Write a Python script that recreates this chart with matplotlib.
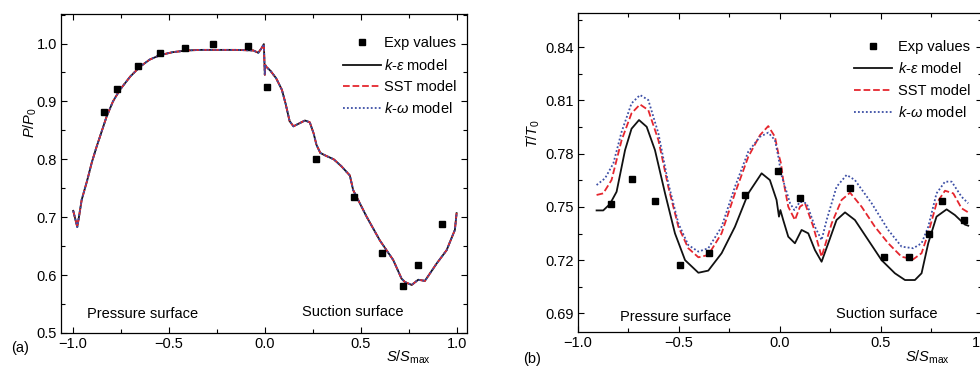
import matplotlib
matplotlib.use("Agg")
import matplotlib.pyplot as plt
from matplotlib.ticker import MultipleLocator

plt.rcParams['font.family'] = ['Liberation Sans', 'DejaVu Sans']
plt.rcParams['mathtext.fontset'] = 'custom'
plt.rcParams['mathtext.rm'] = 'Liberation Sans'
plt.rcParams['mathtext.it'] = 'Liberation Sans:italic'
plt.rcParams['mathtext.sf'] = 'Liberation Sans'
plt.rcParams['font.size'] = 10.5

# ---------------- Panel (a): pressure ratio ----------------
p_exp_x = [-0.837, -0.768, -0.658, -0.545, -0.415, -0.268, -0.085, 0.010,
           0.267, 0.467, 0.613, 0.719, 0.800, 0.922]
p_exp_y = [0.881, 0.921, 0.961, 0.983, 0.992, 0.999, 0.996, 0.925,
           0.800, 0.735, 0.638, 0.581, 0.617, 0.689]

p_x = [-0.997, -0.976, -0.965, -0.953, -0.924, -0.900, -0.875, -0.823, -0.790,
       -0.754, -0.700, -0.649, -0.600, -0.545, -0.480, -0.406, -0.33, -0.25,
       -0.15, -0.059, -0.033, -0.016, -0.004, 0.001, 0.003, 0.008, 0.03, 0.06,
       0.09, 0.11, 0.13, 0.15, 0.18, 0.21, 0.235, 0.255, 0.27, 0.29, 0.32, 0.36,
       0.40, 0.444, 0.461, 0.531, 0.600, 0.670, 0.713, 0.731, 0.766, 0.800,
       0.835, 0.896, 0.948, 0.991, 1.0]
p_ke = [0.711, 0.683, 0.705, 0.730, 0.764, 0.795, 0.822, 0.874, 0.900,
        0.920, 0.943, 0.960, 0.972, 0.980, 0.985, 0.988, 0.989, 0.989,
        0.989, 0.988, 0.984, 0.992, 0.999, 0.946, 0.963, 0.960, 0.953, 0.940,
        0.920, 0.895, 0.866, 0.857, 0.862, 0.867, 0.864, 0.845, 0.825, 0.811, 0.806,
        0.800, 0.788, 0.772, 0.747, 0.701, 0.660, 0.626, 0.594, 0.588, 0.583, 0.592,
        0.590, 0.620, 0.643, 0.678, 0.707]
p_sst = list(p_ke)
p_kw = list(p_ke)

# ---------------- Panel (b): temperature ratio ----------------
t_exp_x = [-0.837, -0.731, -0.621, -0.495, -0.351, -0.175, -0.010, 0.097,
           0.347, 0.515, 0.639, 0.738, 0.803, 0.911]
t_exp_y = [0.7514, 0.7655, 0.7533, 0.7171, 0.7242, 0.7567, 0.7704, 0.7550,
           0.7604, 0.7219, 0.7216, 0.7347, 0.7533, 0.7426]

t_ke_x = [-0.908, -0.875, -0.842, -0.809, -0.767, -0.735, -0.698, -0.660, -0.619,
          -0.569, -0.520, -0.470, -0.404, -0.355, -0.289, -0.223, -0.157, -0.091,
          -0.050, -0.017, -0.005, 0.002, 0.016, 0.041, 0.074, 0.107, 0.140, 0.173,
          0.206, 0.239, 0.280, 0.322, 0.371, 0.437, 0.503, 0.569, 0.619, 0.668,
          0.701, 0.734, 0.775, 0.825, 0.866, 0.916, 0.932]
t_ke = [0.748, 0.748, 0.7516, 0.7585, 0.782, 0.794, 0.7989, 0.7951, 0.782,
        0.7576, 0.7351, 0.720, 0.7129, 0.7141, 0.7239, 0.7388, 0.7576, 0.7689,
        0.7651, 0.7539, 0.7445, 0.7482, 0.7426, 0.7332, 0.7295, 0.737, 0.7351, 0.7257,
        0.7191, 0.7295, 0.7426, 0.7469, 0.7426, 0.7313, 0.720, 0.7126, 0.7088, 0.7088,
        0.7126, 0.7295, 0.7445, 0.7486, 0.7454, 0.740, 0.7394]

t_sst_x = [-0.908, -0.875, -0.834, -0.784, -0.735, -0.693, -0.652, -0.602, -0.553,
           -0.503, -0.454, -0.404, -0.355, -0.289, -0.223, -0.157, -0.099, -0.058,
           -0.025, -0.008, 0.005, 0.016, 0.041, 0.074, 0.099, 0.124, 0.165, 0.206,
           0.256, 0.305, 0.347, 0.404, 0.470, 0.536, 0.602, 0.660, 0.701, 0.734,
           0.775, 0.817, 0.858, 0.899, 0.932]
t_sst = [0.7567, 0.7576, 0.7651, 0.7876, 0.8027, 0.8077, 0.8045, 0.7876, 0.7613,
         0.7388, 0.7267, 0.7216, 0.7229, 0.7351, 0.7576, 0.7782, 0.7904, 0.7955,
         0.7895, 0.780, 0.7745, 0.7651, 0.7501, 0.7426, 0.7501, 0.752, 0.7388, 0.7219,
         0.7407, 0.7539, 0.758, 0.7501, 0.7388, 0.7295, 0.7219, 0.7205, 0.7239, 0.7351,
         0.752, 0.7591, 0.7576, 0.7492, 0.7469]

t_kw_x = [-0.908, -0.866, -0.825, -0.784, -0.735, -0.693, -0.652, -0.602, -0.553,
          -0.503, -0.454, -0.404, -0.355, -0.289, -0.223, -0.157, -0.099, -0.058,
          -0.025, -0.008, 0.005, 0.025, 0.050, 0.071, 0.099, 0.132, 0.173, 0.206,
          0.231, 0.280, 0.330, 0.371, 0.454, 0.536, 0.602, 0.660, 0.701, 0.734,
          0.775, 0.817, 0.850, 0.899, 0.932]
t_kw = [0.7623, 0.7661, 0.7745, 0.7923, 0.8083, 0.813, 0.8102, 0.7914, 0.7633,
        0.7407, 0.7285, 0.7248, 0.7267, 0.7388, 0.7613, 0.7811, 0.7895, 0.7918,
        0.7876, 0.7782, 0.7689, 0.7613, 0.752, 0.7482, 0.7529, 0.752, 0.7388, 0.7313,
        0.7426, 0.7613, 0.768, 0.7651, 0.752, 0.737, 0.7276, 0.7267, 0.7295, 0.7388,
        0.7576, 0.7642, 0.7642, 0.7557, 0.752]

labels = ['Exp values', r'$k$-$\varepsilon$ model', 'SST model', r'$k$-$\omega$ model']
C_BLACK = '#111111'
C_RED = '#e5262e'
C_BLUE = '#3d4fa6'
LW = 1.3

fig = plt.figure(figsize=(9.8, 3.7), dpi=100)
ax1 = fig.add_axes([0.0622, 0.100, 0.4143, 0.8622])
ax2 = fig.add_axes([0.5898, 0.1035, 0.4122, 0.8605])


def style(ax):
    ax.tick_params(which='both', direction='in', top=True, right=True,
                   labelsize=10.5, width=0.8, pad=3)
    ax.tick_params(which='major', length=4)
    ax.tick_params(which='minor', length=3)
    for s in ax.spines.values():
        s.set_linewidth(0.9)


# Panel a
ax1.plot(p_exp_x, p_exp_y, 's', color='black', ms=5, label=labels[0], zorder=5)
ax1.plot(p_x, p_ke, '-', color=C_BLACK, lw=LW, label=labels[1])
ax1.plot(p_x, p_sst, '--', color=C_RED, lw=LW, label=labels[2])
ax1.plot(p_x, p_kw, color=C_BLUE, lw=LW, ls=(0, (1, 1.2)), label=labels[3])
ax1.set_xlim(-1.061, 1.054)
ax1.set_ylim(0.5, 1.051)
ax1.xaxis.set_minor_locator(MultipleLocator(0.25))
ax1.yaxis.set_major_locator(MultipleLocator(0.1))
ax1.yaxis.set_minor_locator(MultipleLocator(0.05))
ax1.set_xticks([-1.0, -0.5, 0.0, 0.5, 1.0])
ax1.set_xticklabels(['\u22121.0', '\u22120.5', '0.0', '0.5', '1.0'])
style(ax1)
ax1.text(-0.925, 0.532, 'Pressure surface', fontsize=10.5, va='center', ha='left')
ax1.text(0.194, 0.536, 'Suction surface', fontsize=10.5, va='center', ha='left')
ax1.legend(loc='upper right', bbox_to_anchor=(0.975, 0.93), frameon=False,
           fontsize=10.5, handlelength=2.6, handletextpad=0.25, labelspacing=0.5,
           borderpad=0, borderaxespad=0)

# Panel b
ax2.plot(t_exp_x, t_exp_y, 's', color='black', ms=5, label=labels[0], zorder=5)
ax2.plot(t_ke_x, t_ke, '-', color=C_BLACK, lw=LW, label=labels[1])
ax2.plot(t_sst_x, t_sst, '--', color=C_RED, lw=LW, label=labels[2])
ax2.plot(t_kw_x, t_kw, color=C_BLUE, lw=LW, ls=(0, (1, 1.2)), label=labels[3])
ax2.set_xlim(-1.0, 1.0)
ax2.set_ylim(0.6797, 0.859)
ax2.set_xticks([-1.0, -0.5, 0.0, 0.5, 1.0])
ax2.set_xticklabels(['\u22121.0', '\u22120.5', '0.0', '0.5', '1.0'])
ax2.xaxis.set_minor_locator(MultipleLocator(0.25))
ax2.set_yticks([0.69, 0.72, 0.75, 0.78, 0.81, 0.84])
ax2.set_yticklabels(['0.69', '0.72', '0.75', '0.78', '0.81', '0.84'])
ax2.yaxis.set_minor_locator(MultipleLocator(0.015))
style(ax2)
ax2.text(-0.791, 0.688, 'Pressure surface', fontsize=10.5, va='center', ha='left')
ax2.text(0.279, 0.6897, 'Suction surface', fontsize=10.5, va='center', ha='left')
ax2.legend(loc='upper right', bbox_to_anchor=(0.972, 0.916), frameon=False,
           fontsize=10.5, handlelength=2.6, handletextpad=0.45, labelspacing=0.5,
           borderpad=0, borderaxespad=0)

# Axis labels and panel tags
fig.text(0.0306, 0.668, r'$P/P_0$', rotation=90, ha='center', va='center', fontsize=10.5)
fig.text(0.544, 0.64, r'$T/T_0$', rotation=90, ha='center', va='center', fontsize=10.5)
fig.text(0.417, 0.035, r'$S/S_{\mathrm{max}}$', ha='center', va='center', fontsize=10.5)
fig.text(0.946, 0.035, r'$S/S_{\mathrm{max}}$', ha='center', va='center', fontsize=10.5)
fig.text(0.0204, 0.0595, '(a)', ha='center', va='center', fontsize=10.5)
fig.text(0.543, 0.030, '(b)', ha='center', va='center', fontsize=10.5)

fig.savefig('out.png', dpi=100)
